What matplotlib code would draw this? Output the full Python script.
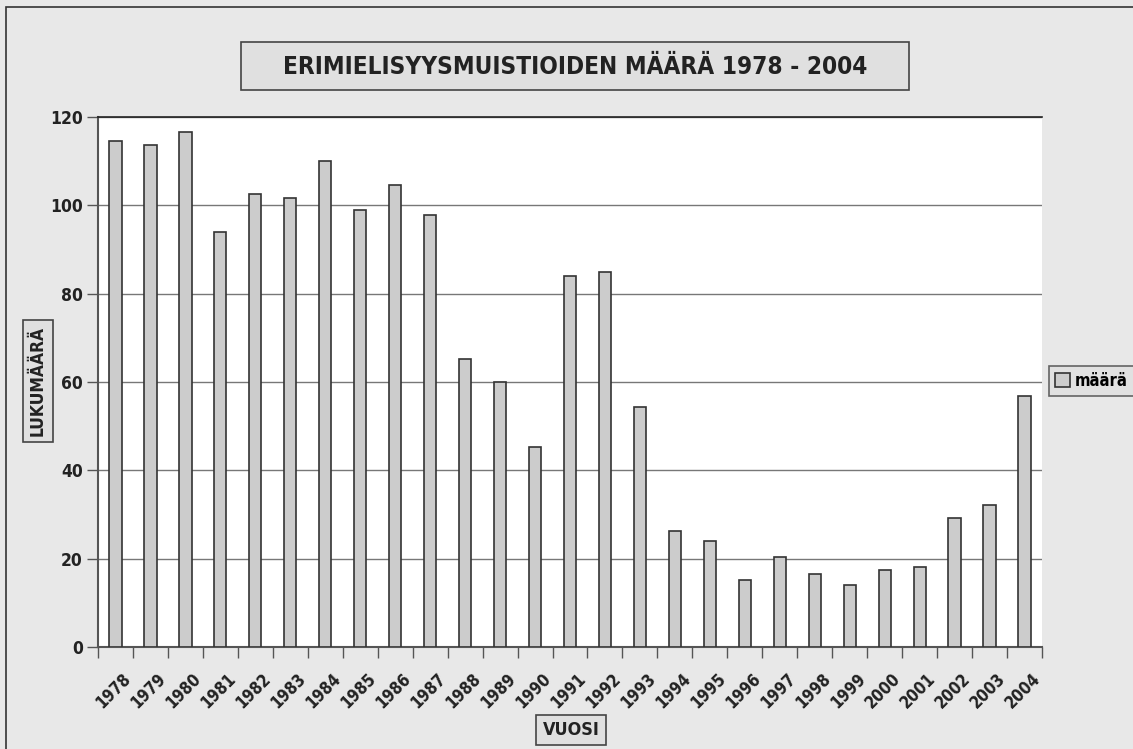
import matplotlib
matplotlib.use('Agg')
from matplotlib import pyplot as plt
from matplotlib.patches import Rectangle
from matplotlib.transforms import ScaledTranslation
import numpy as np

years = [str(y) for y in range(1978, 2005)]
counts = [114.5, 113.7, 116.7, 94.0, 102.6, 101.6, 110.0, 98.9, 104.5, 97.8,
          65.2, 60.0, 45.3, 84.0, 84.8, 54.3, 26.2, 24.1, 15.2, 20.3,
          16.5, 14.1, 17.5, 18.0, 29.2, 32.1, 56.8]
yticks = [0, 20, 40, 60, 80, 100, 120]

title = 'ERIMIELISYYSMUISTIOIDEN MÄÄRÄ 1978 - 2004'
xlabel = 'VUOSI'
ylabel = 'LUKUMÄÄRÄ'
legend_label = 'määrä'

plt.rcParams['font.family'] = ['DejaVu Sans']
plt.rcParams['font.stretch'] = 'condensed'
plt.rcParams['font.weight'] = 'bold'

bg = '#e8e8e8'
txt = '#222222'
fig = plt.figure(figsize=(11.33, 7.49), dpi=100, facecolor=bg)

# outer frame
fig.patches.append(Rectangle((0.005, -0.01), 1.2, 1.0, transform=fig.transFigure,
                             fill=False, edgecolor='#333333', linewidth=1.2))

ax = fig.add_axes([0.0865, 0.1362, 0.8332, 0.7076])
ax.set_facecolor('white')

x = np.arange(len(years))
bars = ax.bar(x, counts, width=0.35, color='#cccccc', edgecolor='#333333', linewidth=1.2,
              label=legend_label, zorder=3)

ax.set_xlim(-0.5, len(years) - 0.5)
ax.set_ylim(0, 120)
ax.set_yticks(yticks)
ax.set_yticklabels([str(v) for v in yticks], fontsize=12.5, fontweight='bold', color=txt)
ax.yaxis.grid(True, color='#777777', linewidth=1.0, zorder=0)

ax.set_xticks(x)
ax.set_xticklabels(years, rotation=45, ha='right', va='center', rotation_mode='anchor',
                   fontsize=12, fontweight='bold', color=txt)
ax.tick_params(axis='x', which='major', length=0, pad=21)
shift = ScaledTranslation(0.13, 0, fig.dpi_scale_trans)
for lab in ax.get_xticklabels():
    lab.set_transform(lab.get_transform() + shift)
ax.set_xticks(np.arange(-0.5, len(years)), minor=True)
ax.tick_params(axis='x', which='minor', length=8, width=1.0, color='#555555')
ax.tick_params(axis='y', length=8, width=1.0, color='#555555', pad=3)

for side in ['left', 'bottom']:
    ax.spines[side].set_color('#555555')
    ax.spines[side].set_linewidth(1.5)
ax.spines['right'].set_visible(False)
ax.spines['top'].set_color('#222222')
ax.spines['top'].set_linewidth(1.2)

fig.patches.append(Rectangle((241 / 1133, 1 - 90 / 749), 668 / 1133, 48 / 749,
                             transform=fig.transFigure, facecolor='#e0e0e0',
                             edgecolor='#444444', linewidth=1.2))
fig.text(575 / 1133, 1 - 67 / 749, title, ha='center', va='center', fontsize=17.5,
         fontweight='bold', color=txt)

box = dict(boxstyle='square,pad=0.35', facecolor='#e0e0e0', edgecolor='#444444', linewidth=1.2)
fig.text(38 / 1133, 1 - 381 / 749, ylabel, ha='center', va='center', rotation=90, fontsize=12.5,
         fontweight='bold', color=txt, bbox=box)
fig.text(571 / 1133, 1 - 730 / 749, xlabel, ha='center', va='center', fontsize=13,
         fontweight='bold', color=txt, bbox=box)

leg = fig.legend(handles=[bars], labels=[legend_label], loc='center left',
                 bbox_to_anchor=(1049 / 1133, 1 - 381 / 749), fontsize=12, frameon=True,
                 fancybox=False, handlelength=0.9, handleheight=0.9, handletextpad=0.3,
                 borderpad=0.35, borderaxespad=0)
leg.get_frame().set_facecolor('#e0e0e0')
leg.get_frame().set_edgecolor('#444444')
leg.get_frame().set_linewidth(1.2)

plt.savefig('out.png', dpi=100, facecolor=bg)
